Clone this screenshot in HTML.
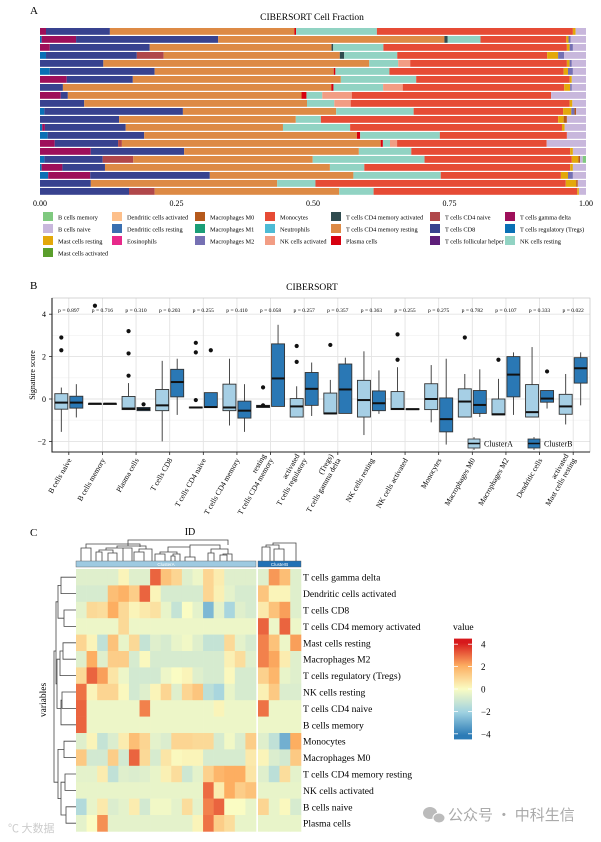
<!DOCTYPE html>
<html><head><meta charset="utf-8">
<style>
html,body{margin:0;padding:0;background:#fff;}
svg{display:block;font-family:"Liberation Serif","Noto Serif CJK SC",serif;}
</style></head>
<body>
<svg id="fig" width="601" height="842" viewBox="0 0 601 842" xmlns="http://www.w3.org/2000/svg">
<g id="panelA"></g>
<g id="panelB"></g>
<g id="panelC"></g>
<g>
  <ellipse cx="430" cy="813" rx="7" ry="6" fill="#bbb"/>
  <ellipse cx="439" cy="818" rx="6" ry="5" fill="#bbb" stroke="#fff" stroke-width="1"/>
  <text x="448" y="820" font-size="15" fill="#aaa" font-family="'Noto Sans CJK SC',sans-serif">公众号 · 中科生信</text>
  <text x="8" y="832" font-size="11" fill="#ccc" font-family="'Noto Sans CJK SC',sans-serif">℃ 大数据</text>
</g>
</svg>
<script>
// ---------------- Panel A data ----------------
const cellTypes = ["B cells memory","B cells naive","Mast cells resting","Mast cells activated","Dendritic cells activated","Dendritic cells resting","Eosinophils","Macrophages M0","Macrophages M1","Macrophages M2","Monocytes","Neutrophils","NK cells activated","T cells CD4 memory activated","T cells CD4 memory resting","Plasma cells","T cells CD4 naive","T cells CD8","T cells follicular helper","T cells gamma delta","T cells regulatory (Tregs)","NK cells resting"];
const cellColors = ["#7fc97f","#c8b7dc","#e3a80a","#5a9e2c","#fdbf8a","#3a6fb0","#e7298a","#b5591c","#1b9e77","#7570b3","#e64b35","#4dbbd5","#f29d84","#2f4b4f","#dd8a45","#d7000f","#b0474a","#38428f","#5e1f7a","#9e0f5a","#0a70b5","#91d3c3"];
// per sample: segments [cellTypeIndex, percent]
const sampleFractions = [
 [[19,1.1],[17,11.7],[14,33.8],[15,0.3],[21,14.8],[10,35.9],[2,0.5],[1,1.9]],
 [[20,0.3],[19,6.3],[17,26.0],[14,41.4],[13,0.6],[21,6.0],[10,15.7],[2,0.4],[9,0.4],[1,2.8]],
 [[19,1.8],[17,18.3],[14,33.3],[13,0.3],[21,9.2],[10,33.6],[2,0.5],[9,0.6],[1,2.4]],
 [[20,1.1],[17,16.6],[16,4.9],[14,32.2],[13,0.8],[21,9.7],[10,27.4],[2,2.0],[9,1.1],[1,4.0]],
 [[17,11.6],[14,48.7],[21,5.3],[12,2.2],[10,28.7],[2,0.5],[9,0.4],[1,2.6]],
 [[20,1.8],[17,19.2],[14,32.8],[15,0.3],[21,9.9],[10,31.9],[2,0.8],[9,0.9],[1,2.4]],
 [[19,4.9],[17,12.1],[14,38.1],[21,13.8],[10,28.1],[2,0.4],[1,2.6]],
 [[17,4.2],[14,49.2],[15,0.4],[21,9.1],[12,3.6],[10,29.6],[2,1.1],[9,0.3],[1,2.6]],
 [[19,3.8],[17,1.3],[14,42.8],[15,0.9],[21,2.9],[12,5.4],[10,36.5],[1,6.4]],
 [[17,8.1],[14,40.8],[21,5.0],[12,3.0],[10,40.1],[2,0.5],[1,2.5]],
 [[20,0.8],[17,25.4],[14,28.1],[21,14.2],[10,27.4],[2,1.5],[9,0.6],[7,0.3],[1,1.8]],
 [[17,14.5],[14,32.4],[21,4.6],[10,43.5],[2,1.0],[7,0.6],[1,3.5]],
 [[20,0.4],[19,0.5],[17,14.8],[14,28.8],[21,12.3],[10,38.8],[2,0.5],[1,3.9]],
 [[20,1.4],[17,17.7],[14,39.0],[15,0.6],[21,14.6],[10,23.3],[1,3.5]],
 [[19,2.7],[17,11.6],[16,0.7],[14,47.4],[15,0.4],[21,1.3],[12,1.3],[10,27.4],[1,7.2]],
 [[19,9.3],[17,17.1],[14,32.0],[21,9.6],[10,29.1],[2,0.5],[1,2.4]],
 [[20,0.8],[17,10.7],[16,5.6],[14,32.9],[21,20.5],[10,27.0],[2,1.2],[7,0.3],[1,0.5],[0,0.6]],
 [[20,0.3],[19,3.8],[17,7.8],[14,41.2],[21,6.3],[10,37.7],[2,0.5],[1,2.4]],
 [[20,1.5],[19,7.7],[17,21.9],[14,26.3],[21,16.0],[10,22.0],[2,1.3],[9,0.9],[1,2.4]],
 [[17,9.3],[14,34.1],[21,7.0],[10,45.8],[2,1.9],[7,0.3],[1,1.5]],
 [[17,16.3],[16,4.7],[14,33.8],[21,6.3],[10,37.3],[2,0.3],[1,1.3]]
];
const fracTicks = ["0.00","0.25","0.50","0.75","1.00"];
const legendColumns = [[0,1,2,3],[4,5,6],[7,8,9],[10,11,12],[13,14,15],[16,17,18],[19,20,21]];

// ---------------- Panel B data ----------------
const bCategories = [["B cells naive"],["B cells memory"],["Plasma cells"],["T cells CD8"],["T cells CD4 naive"],["T cells CD4 memory"],["resting","T cells CD4 memory"],["activated","T cells regulatory"],["(Tregs)","T cells gamma delta"],["NK cells resting"],["NK cells activated"],["Monocytes"],["Macrophages M0"],["Macrophages M2"],["Dendritic cells"],["activated","Mast cells resting"]];
const pValues = ["0.897","0.716","0.310","0.203","0.255","0.410","0.058","0.257","0.357","0.363","0.255","0.275","0.782","0.107","0.333","0.022"];
// [lowWhisker, q1, median, q3, highWhisker]
const clusterAStats = [[-1.55,-0.48,-0.17,0.25,0.54],[-0.22,-0.22,-0.22,-0.22,-0.22],[-0.5,-0.5,-0.45,0.12,0.75],[-2.0,-0.55,-0.3,0.45,1.8],[-0.42,-0.42,-0.4,-0.38,-0.38],[-1.25,-0.55,-0.4,0.7,1.9],[-0.4,-0.4,-0.35,-0.3,-0.3],[-0.85,-0.85,-0.35,0.02,0.6],[-0.7,-0.7,-0.68,0.28,0.9],[-1.7,-0.85,-0.05,0.88,2.25],[-0.5,-0.5,-0.47,0.35,1.5],[-1.1,-0.5,0.0,0.72,1.6],[-0.85,-0.85,-0.12,0.48,1.18],[-0.75,-0.75,-0.72,0.0,0.95],[-0.85,-0.85,-0.62,0.68,2.45],[-1.2,-0.72,-0.35,0.22,1.18]];
const clusterBStats = [[-0.87,-0.43,-0.17,0.13,0.7],[-0.22,-0.22,-0.22,-0.22,-0.22],[-0.55,-0.55,-0.48,-0.4,-0.4],[-0.75,0.1,0.8,1.4,1.9],[-0.4,-0.4,-0.38,0.3,0.3],[-1.55,-0.9,-0.55,-0.1,0.7],[-0.35,-0.35,0.97,2.6,3.5],[-0.8,-0.3,0.48,1.25,1.72],[-0.68,-0.68,0.45,1.65,1.95],[-0.7,-0.55,-0.2,0.38,1.35],[-0.5,-0.5,-0.48,-0.46,-0.46],[-2.15,-1.55,-0.95,0.05,1.9],[-0.85,-0.68,-0.28,0.4,1.4],[-0.75,0.1,1.15,2.0,2.2],[-0.45,-0.15,0.02,0.4,0.4],[-0.3,0.75,1.45,1.95,2.2]];
const clusterAOutliers = [[2.9,2.3],[4.4],[3.2,2.15,1.1],[],[2.65,2.2,-0.05],[],[0.55,-0.3],[2.5,1.75],[2.55],[],[3.05,1.85],[],[2.9],[1.85],[],[]];
const clusterBOutliers = [[],[],[-0.25],[],[2.3],[],[],[],[],[],[],[],[],[],[1.3],[]];
const yTicksB = [-2,0,2,4];

// ---------------- Panel C data ----------------
const heatRows = ["T cells gamma delta","Dendritic cells activated","T cells CD8","T cells CD4 memory activated","Mast cells resting","Macrophages M2","T cells regulatory (Tregs)","NK cells resting","T cells CD4 naive","B cells memory","Monocytes","Macrophages M0","T cells CD4 memory resting","NK cells activated","B cells naive","Plasma cells"];
const heatClusterA = [
 [-0.6,-0.6,-0.6,-0.6,0.2,-0.6,-0.6,3.0,1.5,1.0,-0.6,-0.3,1.0,0.4,-0.6,-0.6,-0.6],
 [-0.8,-0.8,-0.8,1.6,1.9,1.2,3.0,0.2,-0.8,-0.8,-0.8,-0.8,1.0,0.3,-0.5,-0.8,-0.8],
 [-0.5,0.9,0.8,2.0,0.9,0.2,0.5,0.7,-0.4,-1.2,0.0,-0.5,-2.6,-0.5,-1.8,-0.6,-0.8],
 [-0.3,-0.3,-0.3,-0.3,0.9,-0.3,-0.3,-0.3,-0.3,-0.3,-0.3,-0.3,-0.3,-0.3,-0.3,-0.3,-0.3],
 [1.0,0.2,-1.3,1.5,-0.4,0.9,-1.2,-0.6,-0.8,-0.4,-0.2,-0.6,-1.2,-1.2,0.9,-0.5,-0.8],
 [-0.6,2.0,-0.6,1.2,1.2,-0.8,0.1,-0.8,-0.8,-0.8,-0.8,-0.8,-0.8,-0.8,0.3,0.8,-0.6],
 [0.9,3.0,2.2,0.6,-0.3,-0.9,-0.9,-0.9,-0.3,0.0,0.2,-0.6,-0.8,-0.8,0.1,-0.8,-0.8],
 [2.8,0.2,1.0,1.0,0.1,-0.9,-0.6,0.2,1.0,-0.6,1.0,1.4,-1.4,-1.8,-0.4,-0.8,-0.8],
 [3.0,-0.3,-0.3,-0.3,-0.3,-0.3,2.6,-0.3,-0.3,-0.3,-0.3,-0.3,-0.3,0.2,-0.3,-0.3,-0.3],
 [3.0,-0.3,-0.3,-0.3,-0.3,-0.3,-0.3,-0.3,-0.3,-0.3,-0.3,-0.3,-0.3,-0.3,-0.3,-0.3,-0.3],
 [-0.6,0.2,-1.2,-0.7,0.4,1.6,1.0,-0.5,-0.7,1.0,1.0,0.9,0.9,-0.8,-0.2,-0.7,1.2],
 [1.3,-0.9,-0.9,1.2,-0.9,3.0,0.9,-0.8,0.6,0.1,0.2,0.2,-0.8,-0.8,-0.8,-0.8,0.5],
 [-0.5,-0.5,0.4,-1.3,-0.6,-0.7,-0.6,-0.4,0.3,0.8,-1.0,-0.5,1.1,1.8,2.0,2.0,0.6],
 [-0.4,-0.4,-0.4,-0.4,-0.4,-0.4,-0.4,-0.4,-0.4,-0.4,-0.4,-0.4,2.9,0.4,2.0,1.2,1.5],
 [-1.6,-0.4,0.5,-0.7,-0.5,0.4,-0.9,-0.2,-0.2,-0.5,0.8,-0.5,2.6,3.0,0.0,0.0,-0.4],
 [-0.5,0.0,2.4,-0.5,-0.5,-0.5,-0.5,-0.5,-0.5,-0.5,-0.5,0.2,2.8,1.2,0.8,-0.4,-0.4]
];
const heatClusterB = [
 [-0.6,2.3,1.6,-0.6],[1.4,0.2,0.2,-0.6],[0.5,1.5,2.2,-0.6],[3.0,-0.3,3.0,-0.3],
 [2.6,1.5,-0.3,2.2],[2.6,2.1,0.4,-0.6],[1.1,1.8,-0.4,-0.6],[0.3,1.3,-0.7,-0.7],
 [2.8,-0.3,-0.3,-0.3],[-0.3,-0.3,-0.3,-0.3],[-0.6,-1.3,-2.8,2.0],[0.2,-0.7,-0.9,1.3],
 [-0.6,-1.4,0.8,-0.5],[-0.4,-0.4,-0.4,-0.4],[1.0,-0.4,0.1,-0.8],[-0.4,-0.4,-0.4,-0.4]
];
const colorbarTicks = [4,2,0,-2,-4];

const NS = "http://www.w3.org/2000/svg";
function mk(parent, tag, attrs, text){
  const el = document.createElementNS(NS, tag);
  for (const k in attrs) el.setAttribute(k, attrs[k]);
  if (text !== undefined) el.textContent = text;
  parent.appendChild(el);
  return el;
}

// =============== PANEL A ===============
(function(){
  const g = document.getElementById('panelA');
  const x0 = 40, x1 = 586, top = 28, pitch = 8.0, bh = 6.8;
  const xA = f => x0 + (x1 - x0) * f;
  let t = mk(g,'text',{x:30,y:14,'font-size':11});
  t.textContent = 'A';
   
  t = mk(g,'text',{x:312,y:20,'font-size':9.5,'text-anchor':'middle'},'CIBERSORT Cell Fraction');
   
  sampleFractions.forEach((segs, i) => {
    const total = segs.reduce((s, d) => s + d[1], 0);
    let acc = 0;
    segs.forEach(d => {
      const r = mk(g,'rect',{x:xA(acc/total),y:top + i*pitch,width:Math.max(0,xA((acc+d[1])/total)-xA(acc/total)),height:bh,fill:cellColors[d[0]]});
      
      
      acc += d[1];
    });
  });
  fracTicks.forEach((lab, i) => {
    const tx = mk(g,'text',{x:xA(i/4),y:206,'font-size':8,'text-anchor':'middle'},lab);
    
    
  });
  const colX = [43,112,195,265,331,430,505];
  const rowY = [212,224,236,248];
  legendColumns.forEach((col, ci) => {
    col.forEach((ti, ri) => {
      const sw = mk(g,'rect',{x:colX[ci],y:rowY[ri],width:10,height:9,fill:cellColors[ti]});
      
      
      const lt = mk(g,'text',{x:colX[ci]+15,y:rowY[ri]+7.5,'font-size':6.3},cellTypes[ti]);
      
      
    });
  });
})();

// =============== PANEL B ===============
(function(){
  const g = document.getElementById('panelB');
  const L = 52, R = 590, T = 298, B = 452;
  const yB = v => 399 - v * 21.2;
  const band = (R - L) / bCategories.length;
  const cx = i => L + band * (i + 0.5);
  let t = mk(g,'text',{x:30,y:289,'font-size':11},'B');
   
  t = mk(g,'text',{x:312,y:290,'font-size':9.5,'text-anchor':'middle'},'CIBERSORT');
   
  [-1,1,3].forEach(v => { const l = mk(g,'line',{x1:L,x2:R,y1:yB(v),y2:yB(v),stroke:'#f0f0f0','stroke-width':0.6});   });
  yTicksB.forEach(v => { const l = mk(g,'line',{x1:L,x2:R,y1:yB(v),y2:yB(v),stroke:'#e3e3e3','stroke-width':0.9});   });
  bCategories.forEach((c,i) => { const l = mk(g,'line',{x1:cx(i),x2:cx(i),y1:T,y2:B,stroke:'#e3e3e3','stroke-width':0.9});   });
  const frame = mk(g,'rect',{x:L,y:T,width:R-L,height:B-T,fill:'none',stroke:'#bbb','stroke-width':0.6});
   
  const ax = mk(g,'path',{d:`M${L},${T} V${B} H${R}`,fill:'none',stroke:'#222','stroke-width':1.1});
   
  yTicksB.forEach(v => {
    const tl = mk(g,'text',{x:L-6,y:yB(v)+3,'font-size':8,'text-anchor':'end'},String(v).replace('-','\u2212'));
     
    mk(g,'line',{x1:L-3,x2:L,y1:yB(v),y2:yB(v),stroke:'#222','stroke-width':0.8});
  });
  t = mk(g,'text',{x:0,y:0,'font-size':8,'text-anchor':'middle',transform:`translate(35,${(T+B)/2}) rotate(-90)`},'Signature score');
   
  function box(stats, outs, x, fill, name){
    const w = 13;
    const grp = mk(g,'g',{});
    
    
    mk(grp,'line',{x1:x,x2:x,y1:yB(stats[4]),y2:yB(stats[0]),stroke:'#333','stroke-width':0.9});
    mk(grp,'rect',{x:x-w/2,y:yB(stats[3]),width:w,height:Math.max(0.8,yB(stats[1])-yB(stats[3])),fill:fill,stroke:'#333','stroke-width':0.9});
    mk(grp,'line',{x1:x-w/2,x2:x+w/2,y1:yB(stats[2]),y2:yB(stats[2]),stroke:'#111','stroke-width':2});
    outs.forEach(v => {
      const c = mk(grp,'circle',{cx:x,cy:yB(v),r:2.1,fill:'#111'});
      
      
    });
  }
  bCategories.forEach((c,i) => {
    box(clusterAStats[i], clusterAOutliers[i], cx(i)-7.5, '#a6cfe5', 'box-cluster-a');
    box(clusterBStats[i], clusterBOutliers[i], cx(i)+7.5, '#2a78b5', 'box-cluster-b');
    const p = mk(g,'text',{x:cx(i),y:312,'font-size':5.6,'text-anchor':'middle'},'p = ' + pValues[i]);
     
    mk(g,'line',{x1:cx(i),x2:cx(i),y1:B,y2:B+3,stroke:'#222','stroke-width':0.8});
    const lab = mk(g,'text',{'font-size':7.6,'text-anchor':'end',transform:`translate(${cx(i)+3},${B+8}) rotate(-60)`});
     
    c.forEach((line, li) => {
      mk(lab,'tspan',{x:0,dy: li===0 ? (c.length>1 ? -8.5 : 0) : 8.5}, line);
    });
  });
  const lg = mk(g,'g',{});
   
  [['ClusterA','#a6cfe5',468],['ClusterB','#2a78b5',528]].forEach(d => {
    mk(lg,'line',{x1:d[2]+6,x2:d[2]+6,y1:437,y2:450,stroke:'#333','stroke-width':0.8});
    mk(lg,'rect',{x:d[2],y:439,width:12,height:9,fill:d[1],stroke:'#333','stroke-width':0.8});
    mk(lg,'line',{x1:d[2],x2:d[2]+12,y1:443.5,y2:443.5,stroke:'#111','stroke-width':1.5});
    const tt = mk(lg,'text',{x:d[2]+16,y:446.5,'font-size':8},d[0]);
     
  });
})();

// =============== PANEL C ===============
(function(){
  const g = document.getElementById('panelC');
  const stops = [[-4,[44,123,182]],[-2,[160,210,225]],[0,[250,252,195]],[2,[253,174,97]],[4,[215,25,28]]];
  function col(v){
    v = Math.max(-4, Math.min(4, v));
    for (let i=0;i<stops.length-1;i++){
      if (v <= stops[i+1][0]){
        const f = (v - stops[i][0])/(stops[i+1][0]-stops[i][0]);
        const a = stops[i][1], b = stops[i+1][1];
        return `rgb(${Math.round(a[0]+(b[0]-a[0])*f)},${Math.round(a[1]+(b[1]-a[1])*f)},${Math.round(a[2]+(b[2]-a[2])*f)})`;
      }
    }
    return 'rgb(215,25,28)';
  }
  let t = mk(g,'text',{x:30,y:536,'font-size':11},'C');
   
  t = mk(g,'text',{x:190,y:535,'font-size':10,'text-anchor':'middle'},'ID');
   
  const y0 = 569, rh = 16.4;
  const ax0 = 76, aw = (256-76)/17;
  const bx0 = 258, bw = (301-258)/4;
  heatRows.forEach((name, r) => {
    heatClusterA[r].forEach((v, c) => {
      const cell = mk(g,'rect',{x:ax0+c*aw,y:y0+r*rh,width:aw+0.3,height:rh+0.3,fill:col(v)});
      
      
    });
    heatClusterB[r].forEach((v, c) => {
      const cell = mk(g,'rect',{x:bx0+c*bw,y:y0+r*rh,width:bw+0.3,height:rh+0.3,fill:col(v)});
      
      
    });
    const lab = mk(g,'text',{x:303,y:y0+r*rh+rh/2+3.5,'font-size':9.6},name);
     
  });
  let a = mk(g,'rect',{x:ax0,y:561,width:180,height:6,fill:'#9ecae1',stroke:'#555','stroke-width':0.4});
   
  mk(g,'text',{x:166,y:566,'font-size':4.5,'text-anchor':'middle',fill:'#fff',style:'font-family:"Liberation Sans",sans-serif'},'ClusterA');
  a = mk(g,'rect',{x:bx0,y:561,width:43,height:6,fill:'#2171b5',stroke:'#555','stroke-width':0.4});
   
  mk(g,'text',{x:279.5,y:566,'font-size':4.5,'text-anchor':'middle',fill:'#fff',style:'font-family:"Liberation Sans",sans-serif'},'ClusterB');
  const dg = mk(g,'path',{fill:'none',stroke:'#444','stroke-width':0.8,d:
   'M81,561V548H91V561 M86,548V544H140V547 M96,561V552H102V561 M108,561V553H117V561 M99,552V550H113V553 M123,561V548H132V561 M106,550V548H128V548 M134,561V552H144V561 M139,552V549H152V561 M117,548V546H146V549 ' +
   'M155,561V554H165V561 M171,561V556H175V561 M173,556V554H180V561 M160,554V552H177V554 M185,561V557H195V561 M168,552V547H190V557 M128,546V540H228V545 ' +
   'M208,561V553H214V561 M220,561V555H227V561 M223,555V554H232V561 M211,553V549H228V554 M190,547V545H220V549 ' +
   'M262,561V547H270V561 M274,561V549H284V561 M266,547V545H279V549 M273,545V543H296V561'});
   
  const rc = r => y0 + r*rh + rh/2;
  const rd = mk(g,'path',{fill:'none',stroke:'#444','stroke-width':0.8,d:
   `M76,${rc(0)}H61V${rc(1)}H76 M76,${rc(2)}H64V${rc(3)}H76 M61,${(rc(0)+rc(1))/2}H58V${(rc(2)+rc(3))/2}H64 ` +
   `M76,${rc(4)}H63V${rc(5)}H76 M63,${(rc(4)+rc(5))/2}H60V${rc(6)}H76 M76,${rc(7)}H62V${rc(8)}H76 M62,${(rc(7)+rc(8))/2}H61V${rc(9)}H76 ` +
   `M60,${(rc(4)+rc(6))/2}H57V${(rc(7)+rc(9))/2}H61 M58,${(rc(0)+rc(3))/2}H56V${(rc(4)+rc(9))/2}H57 ` +
   `M76,${rc(10)}H64V${rc(11)}H76 M76,${rc(12)}H65V${rc(13)}H76 M76,${rc(14)}H66V${rc(15)}H76 M65,${(rc(12)+rc(13))/2}H61V${(rc(14)+rc(15))/2}H66 ` +
   `M64,${(rc(10)+rc(11))/2}H58V${(rc(12)+rc(15))/2}H61 M56,${(rc(0)+rc(9))/2}H54V${(rc(10)+rc(15))/2}H58`});
   
  t = mk(g,'text',{'font-size':9.5,'text-anchor':'middle',transform:`translate(46,700) rotate(-90)`},'variables');
   
  t = mk(g,'text',{x:453,y:630,'font-size':9.5},'value');
   
  const cy = v => 689 - v * 11.2;
  const defs = mk(g,'defs',{});
  const lg = mk(defs,'linearGradient',{id:'cb',x1:0,y1:0,x2:0,y2:1});
  [4,3,2,1,0,-1,-2,-3,-4].forEach(v => mk(lg,'stop',{offset:((4-v)/8*0.918+0.041).toFixed(3),'stop-color':col(v)}));
  const cb = mk(g,'rect',{x:454,y:cy(4.5),width:18,height:cy(-4.5)-cy(4.5),fill:'url(#cb)'});
   
  colorbarTicks.forEach(v => {
    mk(g,'line',{x1:454,x2:458,y1:cy(v),y2:cy(v),stroke:'#fff','stroke-width':0.8});
    mk(g,'line',{x1:468,x2:472,y1:cy(v),y2:cy(v),stroke:'#fff','stroke-width':0.8});
    const tl = mk(g,'text',{x:481,y:cy(v)+3.5,'font-size':9},String(v).replace('-','\u2212'));
     
  });
})();
</script>
</body></html>
